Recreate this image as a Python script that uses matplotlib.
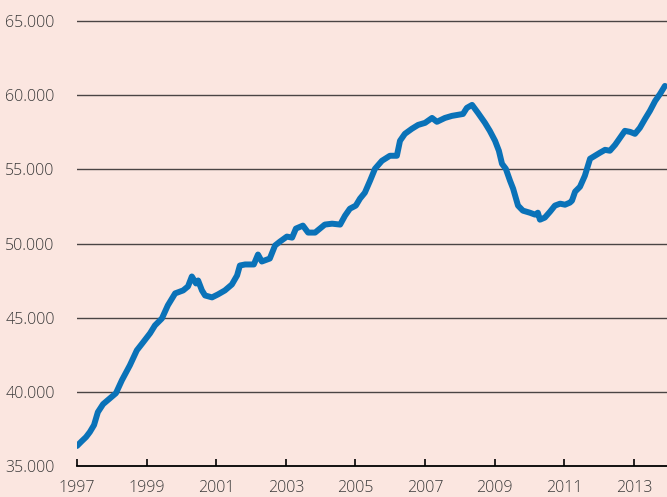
import matplotlib
matplotlib.use("Agg")
import matplotlib.pyplot as plt
from matplotlib.ticker import FuncFormatter

# monthly-ish series
years = [1997.00, 1997.14, 1997.26, 1997.37, 1997.49, 1997.60, 1997.75, 1997.95,
         1998.12, 1998.29, 1998.52, 1998.72, 1998.90, 1999.10, 1999.24, 1999.44,
         1999.61, 1999.82, 2000.05, 2000.19, 2000.30, 2000.42, 2000.48, 2000.59,
         2000.68, 2000.88, 2001.05, 2001.25, 2001.45, 2001.60, 2001.68, 2001.83,
         2002.08, 2002.20, 2002.31, 2002.54, 2002.69, 2002.83, 2003.03, 2003.18,
         2003.29, 2003.49, 2003.64, 2003.84, 2003.98, 2004.12, 2004.33, 2004.56,
         2004.70, 2004.84, 2005.01, 2005.13, 2005.27, 2005.42, 2005.56, 2005.76,
         2005.99, 2006.19, 2006.28, 2006.42, 2006.62, 2006.80, 2007.00, 2007.20,
         2007.34, 2007.57, 2007.77, 2008.09, 2008.20, 2008.35, 2008.52, 2008.72,
         2008.86, 2009.01, 2009.12, 2009.21, 2009.32, 2009.44, 2009.53, 2009.67,
         2009.81, 2010.01, 2010.16, 2010.24, 2010.30, 2010.44, 2010.59, 2010.73,
         2010.88, 2011.02, 2011.16, 2011.22, 2011.31, 2011.45, 2011.59, 2011.74,
         2011.88, 2012.02, 2012.17, 2012.31, 2012.46, 2012.60, 2012.74, 2012.89,
         2013.03, 2013.17, 2013.32, 2013.46, 2013.61, 2013.75, 2013.89]
values = [36350, 36680, 36950, 37290, 37760, 38630, 39170, 39570,
          39910, 40780, 41790, 42800, 43340, 43950, 44480, 44950,
          45830, 46640, 46840, 47110, 47780, 47310, 47510, 46840,
          46500, 46370, 46570, 46840, 47240, 47850, 48520, 48590,
          48590, 49260, 48790, 48990, 49870, 50130, 50470, 50400,
          51010, 51210, 50740, 50740, 51010, 51280, 51340, 51280,
          51880, 52350, 52560, 53030, 53430, 54240, 55040, 55580,
          55920, 55920, 56930, 57400, 57740, 58000, 58140, 58470,
          58210, 58470, 58610, 58740, 59150, 59350, 58810, 58140,
          57600, 56930, 56260, 55380, 55040, 54240, 53700, 52560,
          52220, 52080, 51950, 52080, 51610, 51750, 52150, 52560,
          52690, 52620, 52760, 52890, 53500, 53830, 54570, 55720,
          55920, 56120, 56320, 56260, 56660, 57130, 57600, 57530,
          57400, 57800, 58410, 58950, 59620, 60090, 60630]

xticks = [1997, 1999, 2001, 2003, 2005, 2007, 2009, 2011, 2013]
yticks = [35000, 40000, 45000, 50000, 55000, 60000, 65000]

bg = "#fbe6e0"
plt.rcParams['font.family'] = ['Open Sans', 'DejaVu Sans']
plt.rcParams['font.weight'] = 'light'

fig = plt.figure(figsize=(6.67, 4.97), dpi=100, facecolor=bg)
ax = fig.add_axes([0.1154, 0.0624, 0.8846, 0.913])
ax.set_facecolor(bg)

ax.plot(years, values, color="#0a72b8", linewidth=4.3, solid_capstyle="round",
        solid_joinstyle="round", zorder=3)

ax.set_xlim(1997, 2013.95)
ax.set_ylim(35000, 65600)
ax.set_xticks(xticks)
ax.set_yticks(yticks)
ax.yaxis.set_major_formatter(FuncFormatter(lambda v, p: f"{v:,.0f}".replace(",", ".")))

for v in yticks[1:]:
    ax.axhline(v, color="#4a4444", linewidth=1.0, zorder=1)

for s in ["top", "right", "left"]:
    ax.spines[s].set_visible(False)
ax.spines["bottom"].set_color("black")
ax.spines["bottom"].set_linewidth(1.3)

ax.tick_params(axis="x", direction="in", length=5, width=1.2, color="black",
               labelsize=11.5, labelcolor="#3a3a3a", pad=10)
ax.tick_params(axis="y", length=0, labelsize=11.5, labelcolor="#3a3a3a", pad=16)

fig.savefig("out.png", dpi=100, facecolor=bg)
